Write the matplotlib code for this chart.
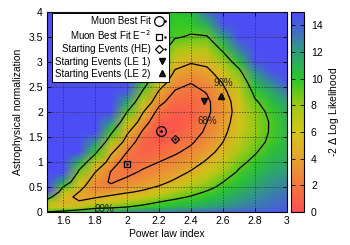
import numpy as np
import matplotlib
matplotlib.use("Agg")
import matplotlib.pyplot as plt
from matplotlib.colors import LinearSegmentedColormap, Normalize
from matplotlib.legend_handler import HandlerTuple
from matplotlib.cm import ScalarMappable

plt.rcParams['font.family'] = ['Liberation Sans', 'DejaVu Sans']

# grid of the likelihood scan
index_grid = [1.5, 1.6, 1.7, 1.8, 1.9, 2.0, 2.1, 2.2, 2.3, 2.4, 2.5, 2.6, 2.7, 2.8, 2.9, 3.0]
norm_grid = [0, 0.1, 0.2, 0.3, 0.4, 0.5, 0.6, 0.8, 1.0, 1.2, 1.4, 1.6, 1.8,
             2.0, 2.2, 2.4, 2.6, 2.8, 3.0, 3.25, 3.5, 3.75, 4.0]

# -2 delta log likelihood, one list per power law index (bottom to top)
llh_cols = [
    [9.3, 6.8, 7.6, 10.8, 15.2, 18, 20] + [20] * 16,
    [10.0, 5.8, 4.9, 5.6, 7.2, 9.2, 11.8, 17] + [20] * 15,
    [10.8, 7.0, 4.8, 4.0, 4.6, 5.5, 6.5, 8.7, 11.2, 15, 18.5] + [20] * 12,
    [11.5, 8.3, 5.6, 4.4, 3.2, 2.8, 3.2, 4.7, 7.2, 9.8, 12.5, 15, 18] + [20] * 10,
    [12.0, 8.6, 6.5, 5.0, 3.8, 2.7, 2.1, 2.2, 3.5, 5.0, 7.5, 9.7, 12.5, 15, 18] + [20] * 8,
    [12.5, 9.2, 7.4, 5.6, 4.4, 3.6, 2.9, 1.7, 1.2, 2.3, 3.6, 5.0, 7.0, 9.2, 11.8, 14, 16.5, 19] + [20] * 5,
    [12.8, 9.8, 8.3, 6.4, 4.9, 4.1, 3.5, 2.6, 1.6, 0.9, 1.1, 2.0, 3.4, 4.7, 6.8, 8.8, 10.8, 13, 14.5, 15.5, 15.8, 15.6, 15.2],
    [13.0, 10.3, 9.2, 7.6, 6.1, 4.8, 4.0, 3.1, 2.3, 1.3, 0.5, 0.2, 0.6, 1.6, 2.9, 4.3, 6.2, 8.1, 9.6, 10.3, 10.8, 11.2, 11.6],
    [13.2, 10.9, 9.8, 8.7, 7.4, 6.2, 5.0, 3.7, 2.8, 2.1, 1.3, 0.6, 0.3, 0.6, 1.3, 2.1, 3.2, 4.3, 5.6, 7.8, 9.4, 9.7, 10.0],
    [13.4, 11.3, 10.3, 9.4, 8.5, 7.5, 6.5, 4.8, 3.6, 2.7, 2.1, 1.5, 1.0, 0.9, 1.2, 1.7, 2.4, 3.5, 4.8, 7.0, 9.0, 9.9, 10.6],
    [13.6, 11.8, 10.9, 10.1, 9.4, 8.6, 7.8, 6.2, 4.9, 3.9, 3.1, 2.6, 2.3, 2.0, 2.0, 2.4, 3.0, 4.0, 5.2, 7.2, 9.0, 11.3, 13.5],
    [13.8, 12.3, 11.6, 11.0, 10.3, 9.7, 9.2, 7.8, 6.4, 5.3, 4.6, 4.0, 3.6, 3.3, 3.4, 4.0, 4.8, 5.9, 7.6, 9.6, 12, 14.5, 17],
    [14.0, 12.8, 12.3, 11.8, 11.2, 10.7, 10.2, 9.5, 8.6, 7.6, 6.8, 6.2, 5.8, 5.6, 5.8, 6.4, 7.3, 8.6, 10.4, 13.0, 16, 19, 20],
    [14.2, 13.2, 12.9, 12.5, 12.1, 11.7, 11.3, 10.6, 9.8, 9.0, 8.5, 8.2, 8.1, 8.3, 8.9, 9.8, 11.0, 12.5, 14.5, 17, 20, 20, 20],
    [14.4, 13.6, 13.4, 13.1, 12.8, 12.5, 12.2, 11.6, 11.0, 10.4, 9.6, 9.4, 9.4, 9.7, 10.4, 11.4, 12.8, 14.5, 16.5, 19, 20, 20, 20],
    [14.6, 14.0, 13.8, 13.6, 13.2, 12.9, 12.6, 12.0, 11.4, 11.0, 10.8, 10.7, 10.8, 11.2, 11.9, 13.0, 14.6, 16.3, 18.3, 20, 20, 20, 20],
]

# contour levels for 68%, 90%, 99% (2 dof)
levels = [2.3, 4.61, 9.21]
level_names = ['68%', '90%', '99%']

# best fit points
fit_labels = ['Muon Best Fit', r'Muon Best Fit E$^{-2}$', 'Starting Events (HE)',
              'Starting Events (LE 1)', 'Starting Events (LE 2)']
fit_index = [2.21, 2.0, 2.3, 2.48, 2.59]
fit_norm = [1.61, 0.97, 1.47, 2.21, 2.31]

cmap = LinearSegmentedColormap.from_list('llh', [
    (0.0, '#ff4f4f'), (2 / 15, '#f2783f'), (4 / 15, '#e6a22e'), (6 / 15, '#d2c61a'),
    (8 / 15, '#9ec814'), (10 / 15, '#28c828'), (12 / 15, '#2e9e7c'),
    (14 / 15, '#4860d8'), (1.0, '#4d4df5')])
norm = Normalize(0, 15)

fig = plt.figure(figsize=(3.5, 2.45), dpi=100)
ax = fig.add_axes([47 / 350, 33 / 245, 240 / 350, 200 / 245])
cax = fig.add_axes([291 / 350, 33 / 245, 13 / 350, 200 / 245])

X, Y = np.meshgrid(index_grid, norm_grid)
Z = np.array(llh_cols).T

ax.pcolormesh(X, Y, Z, cmap=cmap, norm=norm, shading='gouraud', zorder=0)
ax.contour(X, Y, Z, levels=levels, colors='k', linewidths=0.9, zorder=2)

# contour labels, horizontal like the original
ax.text(2.5, 1.82, level_names[0], fontsize=7, color='#202020', ha='center', va='center', zorder=3)
ax.text(2.6, 2.57, level_names[1], fontsize=7, color='#202020', ha='center', va='center', zorder=3)
ax.text(1.86, 0.07, level_names[2], fontsize=7, color='#202020', ha='center', va='center', zorder=3)

ax.grid(True, color='#303030', linestyle=(0, (2, 2)), linewidth=0.5, zorder=1)
ax.set_axisbelow(False)

# best fit markers
kw = dict(linestyle='none', color='k', zorder=4)
h_circ, = ax.plot(fit_index[0], fit_norm[0], marker='o', ms=7, mfc='none', mew=0.9, **kw)
d_circ, = ax.plot(fit_index[0], fit_norm[0], marker='.', ms=2, **kw)
h_sq, = ax.plot(fit_index[1], fit_norm[1], marker='s', ms=5, mfc='none', mew=0.9, **kw)
d_sq, = ax.plot(fit_index[1], fit_norm[1], marker='.', ms=1.5, **kw)
h_dia, = ax.plot(fit_index[2], fit_norm[2], marker='D', ms=4, mfc='none', mew=0.9, **kw)
d_dia, = ax.plot(fit_index[2], fit_norm[2], marker='.', ms=1.5, **kw)
h_dn, = ax.plot(fit_index[3], fit_norm[3], marker='v', ms=5, mfc='#202020', mec='k', **kw)
h_up, = ax.plot(fit_index[4], fit_norm[4], marker='^', ms=5, mfc='#202020', mec='k', **kw)

leg = ax.legend([(h_circ, d_circ), (h_sq, d_sq), (h_dia, d_dia), h_dn, h_up], fit_labels,
                handler_map={tuple: HandlerTuple(ndivide=None)},
                loc='upper left', bbox_to_anchor=(0.022, 0.993), markerfirst=False,
                fontsize=7, labelspacing=0.22, handlelength=0.9, handletextpad=0.7,
                borderpad=0.3, borderaxespad=0.0, fancybox=False, framealpha=1,
                edgecolor='k')
leg.get_frame().set_linewidth(0.7)
leg.set_zorder(5)

ax.set_xlim(1.5, 3.0)
ax.set_ylim(0, 4)
ax.set_xticks([1.6, 1.8, 2.0, 2.2, 2.4, 2.6, 2.8, 3.0])
ax.set_xticklabels(['1.6', '1.8', '2', '2.2', '2.4', '2.6', '2.8', '3'])
ax.set_yticks([0, 0.5, 1, 1.5, 2, 2.5, 3, 3.5, 4])
ax.set_yticklabels(['0', '0.5', '1', '1.5', '2', '2.5', '3', '3.5', '4'])
ax.tick_params(direction='in', top=True, right=True, length=3, width=0.6,
               labelsize=7.5, pad=3)
ax.set_xlabel('Power law index', fontsize=7.5, labelpad=2)
ax.set_ylabel('Astrophysical normalization', fontsize=7.5, labelpad=4)
for s in ax.spines.values():
    s.set_linewidth(0.8)

cb = fig.colorbar(ScalarMappable(norm=norm, cmap=cmap), cax=cax)
cb.set_ticks([0, 2, 4, 6, 8, 10, 12, 14])
cb.ax.tick_params(direction='in', left=True, right=True, length=3, width=0.6,
                  labelsize=7.5, pad=5)
cb.outline.set_linewidth(0.8)
cb.set_label(r'-2 $\Delta$ Log Likelihood', fontsize=7.5, labelpad=3)

fig.savefig('out.png', dpi=100)
